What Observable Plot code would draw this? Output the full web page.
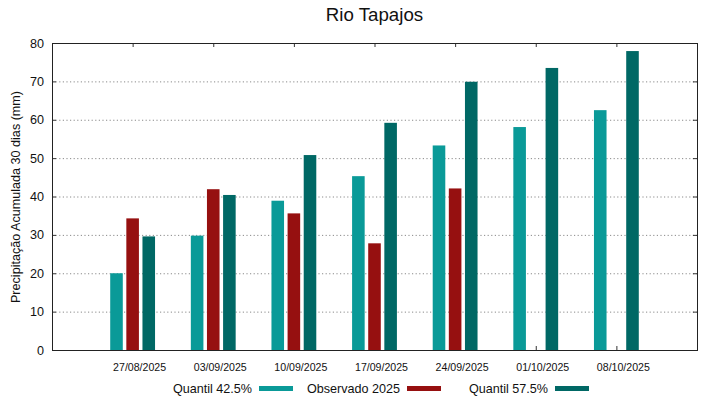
<!DOCTYPE html>
<html>
<head>
<meta charset="utf-8">
<script src="https://cdn.jsdelivr.net/npm/d3@7"></script>
<script src="https://cdn.jsdelivr.net/npm/@observablehq/plot@0.6"></script>
<style>
  body { margin: 0; background: #fff; font-family: "Liberation Sans", Arial, sans-serif; }
  #wrap { width: 719px; height: 399px; position: relative; overflow: hidden; }
  #title { height: 30px; line-height: 30px; font-size: 18.7px; color: #111; margin-left: 52px; width: 645px; text-align: center; }
  #legend { position: relative; height: 21px; }
  .item { position: absolute; top: 0; height: 21px; display: flex; align-items: center; justify-content: flex-end; width: 148px; font-size: 12.6px; color: #111; }
  .sw { width: 34px; height: 5px; margin-left: 7px; }
  svg { display: block; }
</style>
</head>
<body>
<div id="wrap">
  <div id="title">Rio Tapajos</div>
  <div id="chart"></div>
  <div id="legend"></div>
</div>
<script>
const dates = ["27/08/2025", "03/09/2025", "10/09/2025", "17/09/2025", "24/09/2025", "01/10/2025", "08/10/2025"];
const seriesNames = ["Quantil 42.5%", "Observado 2025", "Quantil 57.5%"];
const seriesColors = ["#0a9a98", "#961010", "#006865"];
const quantil425 = [20.0, 29.8, 38.9, 45.3, 53.3, 58.1, 62.5];
const observado2025 = [34.3, 41.9, 35.6, 27.8, 42.1, null, null];
const quantil575 = [29.6, 40.4, 50.8, 59.2, 69.9, 73.5, 77.9];
const yTicks = [0, 10, 20, 30, 40, 50, 60, 70, 80];
const yGrid = [10, 20, 30, 40, 50, 60, 70];

const seriesValues = [quantil425, observado2025, quantil575];
const rows = [];
seriesValues.forEach((vals, k) => {
  vals.forEach((v, i) => {
    if (v != null) rows.push({i, k, series: seriesNames[k], value: v});
  });
});
const idx = dates.map((d, i) => i);

const W = 719, H = 348;
const mL = 52, mR = 22, mT = 13, mB = 28;
const plotW = W - mL - mR, plotH = H - mT - mB;
const barOffset = 0.2, barHalf = 0.078;

const chart = Plot.plot({
  width: W,
  height: H,
  marginLeft: mL,
  marginRight: mR,
  marginTop: mT,
  marginBottom: mB,
  style: {fontFamily: "'Liberation Sans', Arial, sans-serif", color: "#111", background: "#fff"},
  x: {domain: [-1, dates.length], axis: null},
  y: {domain: [0, 80], axis: null},
  color: {domain: seriesNames, range: seriesColors},
  marks: [
    Plot.gridY(yGrid, {stroke: "#8a8a8a", strokeOpacity: 1, strokeDasharray: "1.2,2.4", strokeWidth: 1}),
    Plot.tickY(yTicks, {y: d => d, stroke: "#333", insetLeft: plotW - 4}),
    Plot.tickY(yTicks, {y: d => d, stroke: "#333", insetRight: plotW - 4}),
    Plot.tickX(idx, {x: d => d, stroke: "#333", insetBottom: plotH - 4}),
    Plot.tickX(idx, {x: d => d, stroke: "#333", insetTop: plotH - 4}),
    Plot.rectY(rows, {
      x1: d => d.i + (d.k - 1) * barOffset - barHalf,
      x2: d => d.i + (d.k - 1) * barOffset + barHalf,
      y: "value",
      fill: "series"
    }),
    Plot.axisY(yTicks, {
      anchor: "left", tickSize: 0, tickPadding: 8.5, fontSize: 12.6,
      label: "Precipitação Acumulada 30 dias (mm)", labelAnchor: "center", labelArrow: "none", labelOffset: 41
    }),
    Plot.axisX(idx, {
      anchor: "bottom", tickSize: 0, tickPadding: 12.5, fontSize: 10.6, dx: 6.5,
      tickFormat: i => dates[i], label: null
    }),
    Plot.frame({stroke: "#222", strokeWidth: 1})
  ]
});
document.getElementById("chart").appendChild(chart);

const legend = document.getElementById("legend");
const legendLeft = [145, 293, 441];
seriesNames.forEach((name, k) => {
  const item = document.createElement("div");
  item.className = "item";
  item.style.left = legendLeft[k] + "px";
  const t = document.createElement("span");
  t.textContent = name;
  const sw = document.createElement("span");
  sw.className = "sw";
  sw.style.background = seriesColors[k];
  item.appendChild(t);
  item.appendChild(sw);
  legend.appendChild(item);
});
</script>
</body>
</html>
